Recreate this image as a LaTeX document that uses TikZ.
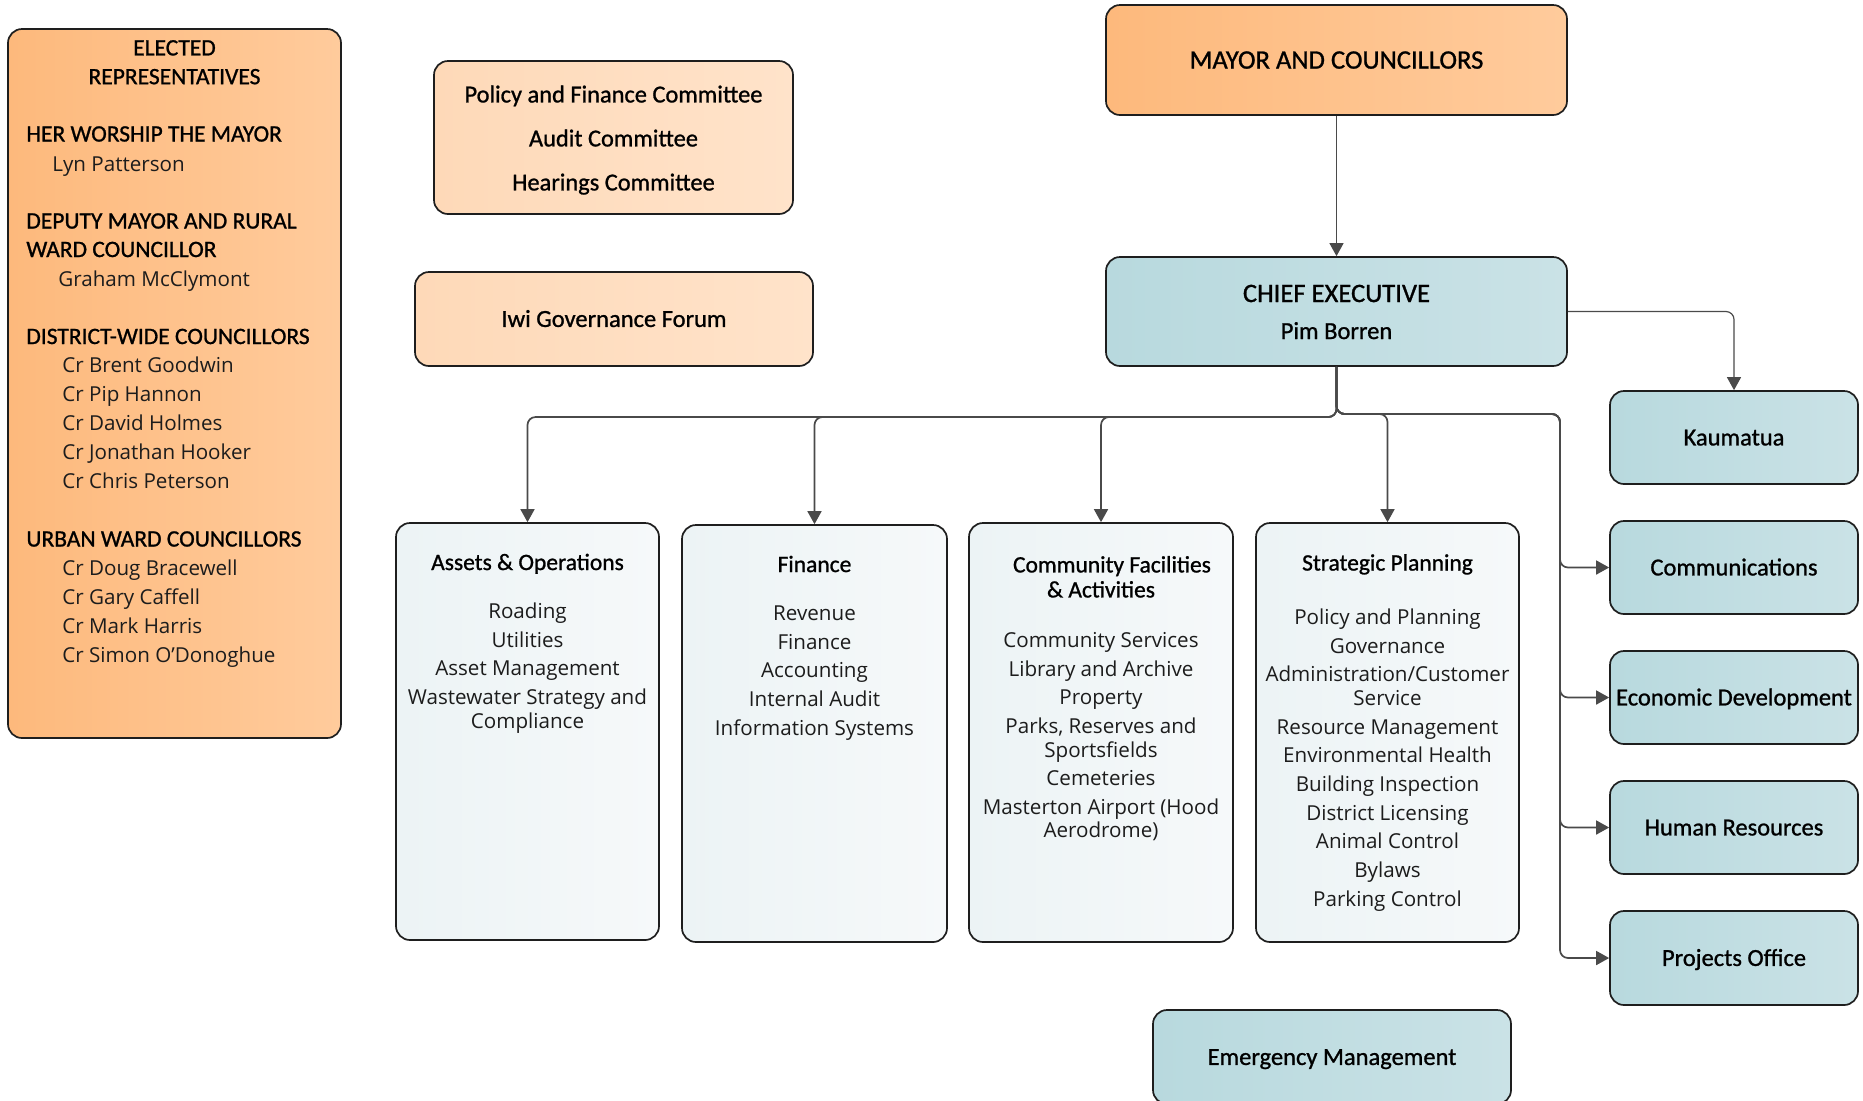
\documentclass[tikz,border=0pt]{standalone}
\usepackage{fontspec}
\setmainfont{Carlito}[FakeBold=1]
\newfontfamily\bodyfont{Open Sans}
\usetikzlibrary{arrows.meta,calc}
\definecolor{bord}{HTML}{1E1E1E}
\definecolor{linec}{HTML}{4A4A4A}
\definecolor{orA}{HTML}{FDB97C}
\definecolor{orB}{HTML}{FFCB9C}
\definecolor{pcA}{HTML}{FED9B8}
\definecolor{pcB}{HTML}{FFE3CA}
\definecolor{tlA}{HTML}{B8D9DE}
\definecolor{tlB}{HTML}{CAE2E6}
\definecolor{dpA}{HTML}{ECF3F5}
\definecolor{dpB}{HTML}{F6F9FA}
\definecolor{txt}{HTML}{1C1C1C}
\begin{document}
\begin{tikzpicture}[x=0.5pt,y=-0.5pt,
  box/.style={draw=bord, line width=0.85pt, rounded corners=7pt, inner sep=0pt, align=center},
  orbox/.style={box, left color=orA, right color=orB},
  pcbox/.style={box, left color=pcA, right color=pcB},
  tlbox/.style={box, left color=tlA, right color=tlB},
  dpbox/.style={box, left color=dpA, right color=dpB},
  lbl/.style={font=\fontsize{12.25}{14}\selectfont, text height=10pt, text depth=2.1pt},
  bigl/.style={font=\fontsize{13.3}{16}\selectfont, text height=10.6pt, text depth=2pt},
  dtitle/.style={inner sep=0pt, anchor=base, font=\fontsize{11.75}{12.5}\selectfont, align=center},
  dbody/.style={inner sep=0pt, anchor=north, align=center, text=txt, font=\bodyfont\fontsize{10.3}{11.75}\selectfont},
  elhd/.style={inner sep=0pt, anchor=base west, font=\fontsize{11.75}{14}\selectfont},
  elnm/.style={inner sep=0pt, anchor=base west, text=txt, font=\bodyfont\fontsize{10.3}{12}\selectfont},
  conn/.style={draw=linec, line width=0.85pt, rounded corners=4pt, -{Triangle[length=6.5pt,width=7pt]}}
]
\useasboundingbox (0,0) rectangle (1863,1100);
\clip (0,0) rectangle (1863,1100);

% ---------- boxes ----------
\node[orbox, minimum width=166.5pt, minimum height=354.5pt] (elected) at (174.5,383.5) {};
\node[pcbox, minimum width=179.5pt, minimum height=76.5pt] (policy) at (613.5,137.5) {};
\node[pcbox, lbl, minimum width=199pt, minimum height=47pt] (iwi) at (614,319) {Iwi Governance Forum};
\node[orbox, bigl, minimum width=230.5pt, minimum height=55pt] (mayor) at (1336.5,60) {MAYOR AND COUNCILLORS};
\node[tlbox, minimum width=230.5pt, minimum height=54.5pt] (ce) at (1336.5,311.5) {};
\node[tlbox, lbl, minimum width=124pt, minimum height=46.5pt] (kaum) at (1734,437.5) {Kaumatua};
\node[tlbox, lbl, minimum width=124pt, minimum height=46.5pt] (comm) at (1734,567.5) {Communications};
\node[tlbox, lbl, minimum width=124pt, minimum height=46.5pt] (econ) at (1734,697.5) {Economic Development};
\node[tlbox, lbl, minimum width=124pt, minimum height=46.5pt] (hr) at (1734,827.5) {Human Resources};
\node[tlbox, lbl, minimum width=124pt, minimum height=47pt] (proj) at (1734,958) {Projects Office};
\node[tlbox, lbl, minimum width=179pt, minimum height=47pt] (emerg) at (1332,1057) {Emergency Management};
\node[dpbox, minimum width=131.5pt, minimum height=208.5pt] (assets) at (527.5,731.5) {};
\node[dpbox, minimum width=132.5pt, minimum height=208.5pt] (finance) at (814.5,733.5) {};
\node[dpbox, minimum width=132pt, minimum height=209.5pt] (community) at (1101,732.5) {};
\node[dpbox, minimum width=131.5pt, minimum height=209.5pt] (strategic) at (1387.5,732.5) {};

% ---------- elected representatives ----------
\node[inner sep=0pt, anchor=north, align=center, font=\fontsize{11.75}{14.4}\selectfont] (eltitle) at (174.5,31) {\rule{0pt}{12pt}ELECTED\\REPRESENTATIVES};
\foreach \y/\t [count=\i] in {141.5/HER WORSHIP THE MAYOR, 228.5/DEPUTY MAYOR AND RURAL, 257/WARD COUNCILLOR, 344/DISTRICT-WIDE COUNCILLORS, 546.5/URBAN WARD COUNCILLORS}
  \node[elhd] (elh\i) at (26,\y) {\t};
\foreach \y/\x/\t [count=\i] in {171/52/Lyn Patterson, 286.5/58/Graham McClymont, 372.5/62/Cr Brent Goodwin, 401.5/62/Cr Pip Hannon, 430.5/62/Cr David Holmes, 459.5/62/Cr Jonathan Hooker, 488.5/62/Cr Chris Peterson, 575.5/62/Cr Doug Bracewell, 604/62/Cr Gary Caffell, 633/62/Cr Mark Harris, 662/62/Cr Simon O’Donoghue}
  \node[elnm] (eln\i) at (\x,\y) {\t};

% ---------- committees ----------
\node[inner sep=0pt, anchor=north, align=center, font=\fontsize{12.2}{22}\selectfont] (policyT) at (613.5,78) {\rule{0pt}{12pt}Policy and Finance Committee\\Audit Committee\\Hearings Committee};

% ---------- chief executive ----------
\node[inner sep=0pt, anchor=base, font=\fontsize{13.3}{16}\selectfont] (ceT) at (1336.5,302) {CHIEF EXECUTIVE};
\node[inner sep=0pt, anchor=base, font=\fontsize{12.25}{14}\selectfont] (ceN) at (1336.5,339) {Pim Borren};

% ---------- departments ----------
\node[dtitle] (assetsT) at (527.5,570) {Assets \& Operations};
\node[dbody] (assetsB) at (527.5,598) {\rule{0pt}{10pt}Roading\\[2.6pt]Utilities\\[2.6pt]Asset Management\\[2.6pt]Wastewater Strategy and\\Compliance};

\node[dtitle] (financeT) at (814.5,572) {Finance};
\node[dbody] (financeB) at (814.5,600) {\rule{0pt}{10pt}Revenue\\[2.6pt]Finance\\[2.6pt]Accounting\\[2.6pt]Internal Audit\\[2.6pt]Information Systems};

\node[inner sep=0pt, anchor=north, align=center, font=\fontsize{11.75}{12.5}\selectfont] (communityT) at (1101,548) {\rule{0pt}{12pt}\hspace*{11pt}Community Facilities\\\& Activities};
\node[dbody] (communityB) at (1101,627) {\rule{0pt}{10pt}Community Services\\[2.6pt]Library and Archive\\[2.6pt]Property\\[2.6pt]Parks, Reserves and\\Sportsfields\\[2.6pt]Cemeteries\\[2.6pt]Masterton Airport (Hood\\Aerodrome)};

\node[dtitle] (strategicT) at (1387.5,570.5) {Strategic Planning};
\node[dbody] (strategicB) at (1387.5,604) {\rule{0pt}{10pt}Policy and Planning\\[2.6pt]Governance\\[2.6pt]Administration/Customer\\Service\\[2.6pt]Resource Management\\[2.6pt]Environmental Health\\[2.6pt]Building Inspection\\[2.6pt]District Licensing\\[2.6pt]Animal Control\\[2.6pt]Bylaws\\[2.6pt]Parking Control};

% ---------- connectors ----------
\coordinate (busL) at (0,417);
\coordinate (busR) at (0,414);
\coordinate (spine) at (1560,414);

\draw[conn, line width=0.6pt] (mayor.south) -- (ce.north);
\foreach \n in {assets,finance,community}
  \draw[conn] (ce.south) -- (ce.south |- busL) -- (\n.north |- busL) -- (\n.north);
\draw[conn] (ce.south) -- (ce.south |- busR) -- (strategic.north |- busR) -- (strategic.north);
\foreach \n in {comm,econ,hr,proj}
  \draw[conn] (ce.south) -- (ce.south |- busR) -- (spine) -- (spine |- \n.west) -- (\n.west);
\draw[conn, line width=0.6pt] (ce.east) -- (kaum.north |- ce.east) -- (kaum.north);
\end{tikzpicture}
\end{document}
